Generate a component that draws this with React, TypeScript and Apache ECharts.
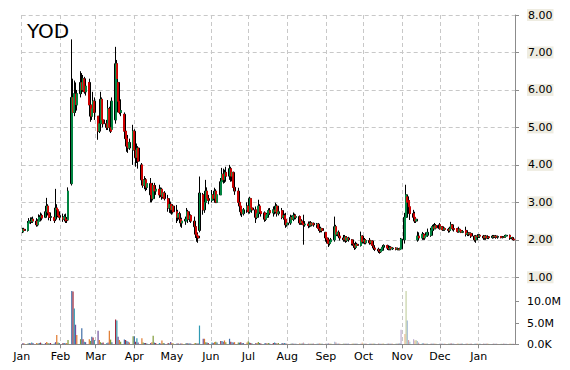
import React, { useEffect, useRef } from "react";
import * as echarts from "echarts";

const TITLE = "YOD";
const AXIS_START = "2014-01-01";
const AXIS_END = "2015-01-30";
const FIRST_TRADING_DAY = "2014-01-02";
const MONTH_NAMES = ["Jan", "Feb", "Mar", "Apr", "May", "Jun", "Jul", "Aug", "Sep", "Oct", "Nov", "Dec"];
const PRICE_TICKS = [1, 2, 3, 4, 5, 6, 7, 8];
const VOLUME_TICKS = [0, 5, 10];
const PALE_FROM = "2014-08-01";

// daily candles, one row per trading week: [open, close, low, high]
const candles: number[][] = [
  [2.22, 2.28, 2.18, 2.32], [2.28, 2.25, 2.2, 2.32],
  [2.25, 2.45, 2.22, 2.5], [2.45, 2.5, 2.4, 2.58], [2.5, 2.48, 2.42, 2.6], [2.48, 2.55, 2.45, 2.6], [2.55, 2.5, 2.45, 2.62],
  [2.5, 2.4, 2.35, 2.58], [2.4, 2.5, 2.36, 2.55], [2.5, 2.6, 2.48, 2.68], [2.6, 2.65, 2.52, 2.73], [2.65, 2.58, 2.52, 2.7],
  [2.6, 2.75, 2.58, 2.9], [2.75, 2.9, 2.7, 3.12], [2.9, 2.72, 2.65, 2.95], [2.72, 2.6, 2.52, 2.76], [2.6, 2.62, 2.5, 2.7],
  [2.6, 2.52, 2.45, 2.62], [2.55, 2.85, 2.5, 3.36], [2.85, 2.8, 2.72, 2.95], [2.8, 2.65, 2.6, 2.85], [2.65, 2.6, 2.52, 2.76],
  [2.6, 2.55, 2.48, 2.7], [2.55, 2.62, 2.5, 2.68], [2.6, 2.5, 2.45, 2.7], [2.55, 2.52, 2.45, 2.6], [2.53, 3.3, 2.5, 3.4],
  [3.5, 5.8, 3.45, 7.35], [5.8, 5.4, 4.9, 6.3], [5.4, 5.9, 5.3, 6.25], [5.9, 5.6, 5.4, 6.2], [5.6, 5.9, 5.45, 6.0],
  [5.9, 6.2, 5.8, 6.5], [6.2, 6.0, 5.9, 6.45], [6.0, 6.3, 5.95, 6.4], [6.3, 5.95, 5.9, 6.35], [5.95, 6.1, 5.85, 6.2],
  [6.2, 5.6, 5.5, 6.3], [5.6, 5.3, 5.15, 5.7], [5.3, 5.5, 5.2, 5.6], [5.5, 5.7, 5.3, 5.95], [5.7, 5.4, 5.2, 5.8],
  [5.3, 4.9, 4.67, 5.3], [4.9, 5.1, 4.85, 5.2], [5.1, 5.75, 5.05, 5.95], [5.75, 5.2, 5.1, 5.8], [5.2, 5.1, 5.0, 5.3],
  [5.1, 5.0, 4.93, 5.2], [5.0, 5.5, 4.93, 5.73], [5.5, 5.0, 4.9, 5.55], [5.0, 4.9, 4.85, 5.05], [4.95, 5.7, 4.9, 5.8],
  [5.2, 6.7, 5.1, 7.15], [6.7, 6.3, 6.25, 6.8], [6.2, 5.7, 5.4, 6.3], [5.7, 5.4, 5.35, 5.9], [5.4, 5.45, 5.3, 5.75],
  [5.35, 4.9, 4.75, 5.4], [4.9, 4.7, 4.6, 5.0], [4.7, 4.5, 4.35, 4.85], [4.5, 4.45, 4.32, 4.8], [4.45, 4.6, 4.4, 4.7],
  [4.4, 4.9, 4.0, 5.07], [4.9, 4.4, 4.2, 4.95], [4.4, 4.2, 3.95, 4.5], [4.2, 4.45, 4.05, 4.57], [4.45, 4.1, 3.9, 4.5],
  [4.0, 3.6, 3.45, 4.05], [3.6, 3.45, 3.39, 3.75], [3.45, 3.6, 3.35, 3.7], [3.6, 3.4, 3.3, 3.65], [3.4, 3.5, 3.33, 3.6],
  [3.5, 3.2, 3.0, 3.65], [3.2, 3.1, 3.0, 3.3], [3.1, 3.45, 3.05, 3.52], [3.45, 3.3, 3.15, 3.52], [3.3, 3.35, 3.2, 3.45],
  [3.35, 3.2, 3.12, 3.47], [3.2, 3.35, 3.15, 3.4], [3.35, 3.15, 3.07, 3.39], [3.15, 3.25, 3.1, 3.3], [3.25, 3.1, 3.05, 3.3],
  [3.1, 2.85, 2.75, 3.2], [2.85, 2.95, 2.72, 3.05], [2.95, 2.8, 2.7, 3.02], [2.8, 2.9, 2.67, 2.95], [2.9, 2.75, 2.7, 2.95],
  [2.75, 2.6, 2.45, 2.93], [2.6, 2.7, 2.5, 2.8], [2.7, 2.55, 2.45, 2.75], [2.55, 2.45, 2.35, 2.6], [2.45, 2.5, 2.32, 2.59],
  [2.5, 2.55, 2.4, 2.62], [2.55, 2.75, 2.5, 2.85], [2.75, 2.55, 2.45, 2.8], [2.55, 2.65, 2.48, 2.73], [2.65, 2.5, 2.45, 2.68],
  [2.5, 2.35, 2.29, 2.62], [2.35, 2.15, 2.05, 2.4], [2.15, 2.1, 1.95, 2.33], [2.1, 2.05, 1.92, 2.2], [2.25, 3.25, 2.2, 3.69],
  [3.2, 2.8, 2.67, 3.25], [2.8, 3.0, 2.72, 3.1], [3.0, 3.3, 2.95, 3.6], [3.3, 3.1, 3.05, 3.4], [3.1, 3.05, 2.95, 3.2],
  [3.05, 3.2, 3.0, 3.33], [3.2, 3.1, 3.05, 3.25], [3.1, 3.3, 3.05, 3.39], [3.3, 3.0, 2.98, 3.35], [3.0, 3.2, 2.98, 3.3],
  [3.2, 3.55, 3.2, 3.65], [3.55, 3.75, 3.45, 3.92], [3.75, 3.6, 3.5, 3.9], [3.6, 3.8, 3.52, 3.87], [3.8, 3.7, 3.55, 3.95],
  [3.7, 3.9, 3.6, 4.0], [3.9, 3.7, 3.55, 3.95], [3.7, 3.8, 3.56, 3.85], [3.8, 3.4, 3.33, 3.82], [3.4, 3.3, 3.2, 3.5],
  [3.3, 3.0, 2.99, 3.39], [3.0, 2.9, 2.85, 3.15], [2.9, 2.75, 2.65, 2.95], [2.75, 2.7, 2.61, 2.89], [2.7, 2.8, 2.65, 2.85],
  [2.8, 2.9, 2.72, 3.0], [2.9, 2.75, 2.7, 2.95], [2.75, 3.1, 2.7, 3.15], [3.1, 2.85, 2.8, 3.12], [2.85, 2.8, 2.72, 2.9],
  [2.8, 2.6, 2.45, 2.89], [2.6, 2.7, 2.55, 2.75], [2.7, 2.9, 2.62, 3.07], [2.9, 2.75, 2.7, 2.95], [2.75, 2.7, 2.62, 2.8],
  [2.72, 2.55, 2.48, 2.76], [2.55, 2.65, 2.5, 2.7], [2.6, 2.68, 2.55, 2.72], [2.68, 2.78, 2.65, 2.84], [2.78, 2.72, 2.67, 2.85],
  [2.72, 2.8, 2.62, 2.89], [2.8, 2.75, 2.68, 2.85], [2.75, 2.9, 2.7, 2.99], [2.9, 2.7, 2.62, 2.95], [2.7, 2.75, 2.65, 2.8],
  [2.78, 2.6, 2.55, 2.85], [2.6, 2.65, 2.55, 2.72], [2.65, 2.55, 2.5, 2.7], [2.55, 2.4, 2.32, 2.72], [2.4, 2.45, 2.35, 2.5],
  [2.45, 2.6, 2.4, 2.67], [2.6, 2.55, 2.5, 2.65], [2.55, 2.65, 2.5, 2.73], [2.65, 2.6, 2.55, 2.7], [2.6, 2.62, 2.55, 2.68],
  [2.62, 2.45, 2.4, 2.65], [2.45, 2.5, 2.4, 2.55], [2.5, 2.45, 2.4, 2.55], [2.45, 2.4, 1.87, 2.67], [2.4, 2.42, 2.35, 2.5],
  [2.42, 2.38, 2.31, 2.49], [2.38, 2.45, 2.33, 2.49], [2.45, 2.4, 2.35, 2.5], [2.4, 2.44, 2.36, 2.47], [2.44, 2.4, 2.35, 2.46],
  [2.4, 2.42, 2.32, 2.45], [2.42, 2.3, 2.25, 2.45], [2.3, 2.25, 2.19, 2.35], [2.25, 2.3, 2.2, 2.35], [2.3, 2.25, 2.2, 2.32],
  [2.2, 2.05, 1.95, 2.21], [2.05, 2.0, 1.9, 2.1], [2.0, 1.9, 1.81, 2.05], [1.9, 1.95, 1.85, 2.0], [1.95, 2.0, 1.9, 2.05],
  [2.0, 2.35, 1.95, 2.62], [2.35, 2.15, 2.1, 2.4], [2.15, 2.2, 2.1, 2.3], [2.2, 2.1, 2.05, 2.25], [2.1, 2.05, 1.98, 2.15],
  [2.05, 2.0, 1.95, 2.13], [2.0, 2.08, 1.95, 2.13], [2.08, 1.98, 1.92, 2.1], [1.98, 2.05, 1.94, 2.1], [2.05, 2.0, 1.95, 2.08],
  [2.0, 1.9, 1.85, 2.02], [1.9, 1.85, 1.79, 1.95], [1.85, 1.8, 1.73, 1.9], [1.8, 1.88, 1.75, 1.95], [1.88, 1.85, 1.8, 1.92],
  [1.85, 2.1, 1.82, 2.22], [2.1, 1.95, 1.9, 2.12], [1.95, 2.0, 1.9, 2.05], [2.0, 1.92, 1.88, 2.05], [1.92, 1.98, 1.88, 2.02],
  [1.98, 1.92, 1.87, 2.05], [1.92, 1.97, 1.88, 2.0], [1.97, 1.85, 1.8, 1.98], [1.85, 1.78, 1.73, 1.95], [1.78, 1.75, 1.7, 1.82],
  [1.75, 1.7, 1.65, 1.79], [1.7, 1.68, 1.63, 1.74], [1.68, 1.72, 1.65, 1.76], [1.72, 1.8, 1.7, 1.85], [1.8, 1.85, 1.73, 1.88],
  [1.85, 1.78, 1.73, 1.87], [1.78, 1.75, 1.72, 1.82], [1.75, 1.8, 1.72, 1.84], [1.8, 1.76, 1.72, 1.83], [1.76, 1.78, 1.73, 1.8],
  [1.78, 1.75, 1.72, 1.8], [1.75, 1.76, 1.72, 1.79], [1.76, 1.74, 1.72, 1.78], [1.74, 1.76, 1.72, 1.79], [1.76, 2.02, 1.73, 2.05],
  [2.0, 2.6, 1.9, 2.72], [2.6, 3.2, 2.6, 3.47], [3.15, 3.0, 2.8, 3.2], [3.05, 2.88, 2.85, 3.1], [2.88, 2.7, 2.53, 2.99],
  [2.7, 2.6, 2.5, 2.8], [2.6, 2.5, 2.45, 2.75], [2.5, 2.55, 2.45, 2.6], [2.0, 2.1, 1.95, 2.22], [2.1, 2.05, 1.98, 2.2],
  [2.05, 2.15, 2.0, 2.21], [2.15, 2.05, 2.0, 2.18], [2.05, 2.1, 2.0, 2.15], [2.1, 2.12, 2.05, 2.2], [2.12, 2.2, 2.08, 2.3],
  [2.12, 2.25, 2.08, 2.32], [2.25, 2.35, 2.2, 2.4], [2.35, 2.3, 2.25, 2.42], [2.3, 2.38, 2.28, 2.45], [2.38, 2.32, 2.28, 2.42],
  [2.4, 2.3, 2.27, 2.45], [2.3, 2.35, 2.28, 2.4], [2.35, 2.27, 2.24, 2.37], [2.27, 2.3, 2.24, 2.34], [2.3, 2.28, 2.24, 2.33],
  [2.28, 2.25, 2.19, 2.32], [2.25, 2.3, 2.2, 2.35], [2.3, 2.4, 2.25, 2.48], [2.4, 2.3, 2.25, 2.42], [2.3, 2.28, 2.22, 2.35],
  [2.3, 2.22, 2.19, 2.32], [2.22, 2.28, 2.19, 2.35], [2.28, 2.25, 2.2, 2.3], [2.25, 2.2, 2.18, 2.28], [2.2, 2.22, 2.18, 2.25],
  [2.25, 2.15, 2.09, 2.35], [2.15, 2.18, 2.1, 2.22], [2.18, 2.15, 2.1, 2.2], [2.15, 2.17, 2.12, 2.2], [2.17, 2.1, 2.05, 2.2],
  [2.1, 2.0, 1.95, 2.12], [2.0, 2.1, 1.92, 2.13], [2.1, 2.08, 2.05, 2.15], [2.08, 2.12, 2.05, 2.15], [2.12, 2.1, 2.05, 2.15],
  [2.1, 2.05, 2.0, 2.13], [2.05, 2.1, 2.0, 2.12], [2.1, 2.05, 2.0, 2.13], [2.05, 2.08, 2.02, 2.12], [2.08, 2.06, 2.02, 2.1],
  [2.06, 2.1, 2.03, 2.13], [2.1, 2.08, 2.04, 2.13], [2.08, 2.1, 2.05, 2.12], [2.1, 2.07, 2.03, 2.13], [2.07, 2.09, 2.03, 2.11],
  [2.09, 2.06, 2.04, 2.1], [2.06, 2.08, 2.04, 2.1], [2.08, 2.07, 2.05, 2.1], [2.07, 2.1, 2.05, 2.13], [2.1, 2.12, 2.06, 2.14],
  [2.12, 2.05, 2.0, 2.14], [2.05, 2.06, 2.02, 2.1], [2.06, 2.02, 2.0, 2.08], [2.02, 2.0, 1.98, 2.06],
];

// daily volume, millions of shares
const volumesM: number[] = [
  0.3, 0.2,
  0.2, 0.3, 0.2, 0.4, 0.3, 0.3, 0.2, 0.3, 0.4, 0.2, 0.3, 0.55, 0.3, 0.2, 0.3, 0.2, 0.5, 2.2, 0.4, 0.3,
  0.3, 0.3, 0.2, 0.3, 1.0, 12.5, 12.4, 8.4, 4.6, 2.2, 1.2, 3.75, 1.2, 0.6, 0.5, 1.2, 0.8, 1.8, 1.6, 1.0,
  3.2, 1.0, 0.5, 0.3, 0.4, 0.3, 0.4, 3.2, 1.1, 0.5, 5.8, 5.6, 1.8, 1.0, 0.6, 1.1, 1.0, 0.8, 0.6, 0.4,
  1.9, 1.9, 0.6, 1.4, 0.4, 1.4, 0.4, 0.3, 0.3, 0.2, 0.3, 0.5, 2.0, 0.4, 0.3, 0.3, 0.2, 0.9, 0.3, 0.2,
  0.3, 0.2, 0.55, 0.3, 0.2, 0.2, 0.2, 0.1, 0.2, 0.2, 0.2, 0.3, 0.2, 0.2, 0.2, 0.2, 0.3, 0.2, 0.2, 4.4,
  1.3, 1.3, 0.5, 0.4, 0.3, 0.4, 0.3, 0.5, 0.6, 0.4, 0.8, 0.8, 0.6, 0.9, 0.5, 1.3, 0.6, 0.5, 0.4, 0.5,
  0.4, 0.4, 0.5, 0.3, 0.3, 0.4, 0.7, 0.4, 0.3, 0.2, 0.3, 0.3, 0.55, 0.3, 0.2, 0.2, 0.3, 0.2, 0.3, 0.2,
  0.3, 0.4, 0.3, 0.2, 0.3, 0.3, 0.2, 0.3, 0.2, 0.2, 0.2, 0.3, 0.2, 0.2, 0.2, 0.3, 0.2, 0.3, 0.4, 0.2,
  0.2, 0.2, 0.2, 0.2, 0.2, 0.2, 0.2, 0.3, 0.2, 0.2, 0.2, 0.2, 0.3, 0.2, 0.2, 0.6, 0.4, 0.2, 0.2, 0.2,
  0.2, 0.2, 0.2, 0.2, 0.2, 0.2, 0.2, 0.2, 0.2, 0.2, 0.2, 0.4, 0.2, 0.2, 0.2, 0.2, 0.2, 0.2, 0.2, 0.2,
  0.2, 0.2, 0.1, 0.2, 0.2, 0.2, 0.2, 0.2, 0.2, 0.2, 0.2, 0.2, 0.2, 0.3, 3.4, 2.4, 12.5, 5.6, 1.0, 0.6,
  1.2, 0.9, 1.0, 0.8, 0.4, 0.3, 0.3, 0.2, 0.2, 0.2, 0.2, 0.2, 0.2, 0.2, 0.1, 0.2, 0.2, 0.2, 0.1, 0.2,
  0.2, 0.2, 0.3, 0.2, 0.2, 0.2, 0.2, 0.1, 0.2, 0.2, 0.2, 0.2, 0.1, 0.1, 0.2, 0.2, 0.2, 0.2, 0.1, 0.2,
  0.2, 0.1, 0.2, 0.2, 0.1, 0.1, 0.2, 0.1, 0.2, 0.1, 0.1, 0.1, 0.2, 0.1, 0.1, 0.2, 0.1, 0.1, 0.1,
];

const VOLUME_PALETTE = ["#6e4f9c", "#e07a2e", "#7f9a36", "#3f6ea6", "#a3283c", "#2f9ab3"];
const UP_COLOR = "#00a651";
const DOWN_COLOR = "#ff0000";

const DAY = 86400000;
const parse = (s: string) => Date.parse(s + "T00:00:00Z");
const fmt = (t: number) => new Date(t).toISOString().slice(0, 10);

export default function App() {
  const ref = useRef<HTMLDivElement>(null);
  useEffect(() => {
    if (!ref.current) return;
    const chart = echarts.init(ref.current, undefined, { renderer: "svg" });

    const cats: string[] = [];
    for (let t = parse(AXIS_START); t <= parse(AXIS_END); t += DAY) cats.push(fmt(t));
    const catIndex: Record<string, number> = {};
    cats.forEach((c, i) => (catIndex[c] = i));

    const tradingDays: string[] = [];
    let t = parse(FIRST_TRADING_DAY);
    while (tradingDays.length < Math.max(candles.length, volumesM.length)) {
      const wd = new Date(t).getUTCDay();
      if (wd !== 0 && wd !== 6) tradingDays.push(fmt(t));
      t += DAY;
    }

    // full candle (wick + body) drawn in black, coloured body drawn over it
    const wickData = candles.map((c, i) => [catIndex[tradingDays[i]], c[0], c[1], c[2], c[3]]);
    const bodyData = candles.map((c, i) => [
      catIndex[tradingDays[i]], c[0], c[1], Math.min(c[0], c[1]), Math.max(c[0], c[1]),
    ]);
    const volData = volumesM.map((v, i) => ({
      value: [catIndex[tradingDays[i]], v],
      itemStyle: {
        color: VOLUME_PALETTE[i % VOLUME_PALETTE.length],
        opacity: tradingDays[i] >= PALE_FROM ? 0.45 : 1,
      },
    }));

    const isMonthStart = (_i: number, v: string) => v.slice(8, 10) === "01";
    const dashed = { color: "#c8c8c8", type: [4, 3] as any, width: 1 };
    const font = "DejaVu Sans";
    const left = 21.7;
    const right = 55;

    const hiddenX = (gi: number) => ({
      type: "category" as const,
      gridIndex: gi,
      data: cats,
      boundaryGap: false,
      show: false,
    });

    chart.setOption({
      animation: false,
      backgroundColor: "#ffffff",
      title: {
        text: TITLE,
        left: 27,
        top: 21,
        padding: 0,
        textStyle: { fontSize: 20, fontWeight: "normal", fontFamily: font, color: "#000" },
      },
      grid: [
        { left, right, top: 15, bottom: 92.7 },
        { left, right, top: 286.8, bottom: 25.7 },
        { left, right, top: 15, bottom: 25.7 },
      ],
      xAxis: [
        hiddenX(0),
        hiddenX(1),
        {
          type: "category",
          gridIndex: 2,
          data: cats,
          boundaryGap: false,
          axisLine: { show: true, lineStyle: { color: "#8c8c8c", width: 1 } },
          axisTick: { show: true, length: 4, interval: isMonthStart, lineStyle: { color: "#8c8c8c" } },
          axisLabel: {
            interval: isMonthStart,
            formatter: (v: string) => MONTH_NAMES[parseInt(v.slice(5, 7), 10) - 1],
            fontSize: 11,
            fontFamily: font,
            color: "#000",
            margin: 7,
          },
          splitLine: { show: true, interval: isMonthStart, lineStyle: dashed },
        },
      ],
      yAxis: [
        {
          type: "value",
          gridIndex: 0,
          position: "right",
          min: PRICE_TICKS[0],
          max: PRICE_TICKS[PRICE_TICKS.length - 1],
          interval: 1,
          axisLine: { show: false },
          axisTick: { show: true, length: 4, lineStyle: { color: "#8c8c8c" } },
          axisLabel: {
            formatter: (v: number) => v.toFixed(2),
            fontSize: 11,
            fontFamily: font,
            color: "#000",
            margin: 12,
            backgroundColor: "#eeece1",
            padding: [1, 1, 0, 1],
          },
          splitLine: { show: true, lineStyle: dashed },
        },
        {
          type: "value",
          gridIndex: 1,
          position: "right",
          min: 0,
          max: 13.5,
          interval: 5,
          axisLine: { show: false },
          axisTick: { show: true, length: 4, lineStyle: { color: "#8c8c8c" }, customValues: VOLUME_TICKS },
          axisLabel: {
            formatter: (v: number) => (v === 0 ? "0.0K" : v.toFixed(1) + "M"),
            fontSize: 11,
            fontFamily: font,
            color: "#000",
            margin: 12,
            customValues: VOLUME_TICKS,
          },
          splitLine: { show: false },
        },
        {
          type: "value",
          gridIndex: 2,
          position: "right",
          min: 0,
          max: 1,
          axisLine: { show: true, lineStyle: { color: "#8c8c8c", width: 1 } },
          axisTick: { show: false },
          axisLabel: { show: false },
          splitLine: { show: false },
        },
      ],
      series: [
        {
          type: "bar",
          xAxisIndex: 1,
          yAxisIndex: 1,
          barWidth: 1.2,
          data: volData,
          encode: { x: 0, y: 1 },
        },
        {
          type: "candlestick",
          xAxisIndex: 0,
          yAxisIndex: 0,
          barWidth: 2.4,
          encode: { x: 0, y: [1, 2, 3, 4] },
          data: wickData,
          itemStyle: {
            color: "#000000",
            color0: "#000000",
            borderColor: "#000000",
            borderColor0: "#000000",
            borderWidth: 1,
          },
        },
        {
          type: "candlestick",
          xAxisIndex: 0,
          yAxisIndex: 0,
          barWidth: 1.4,
          encode: { x: 0, y: [1, 2, 3, 4] },
          data: bodyData,
          itemStyle: {
            color: UP_COLOR,
            color0: DOWN_COLOR,
            borderColor: UP_COLOR,
            borderColor0: DOWN_COLOR,
            borderWidth: 0.6,
          },
        },
      ],
    });
    return () => chart.dispose();
  }, []);
  return (
    <div
      ref={ref}
      style={{ position: "fixed", left: 0, top: 0, width: 570, height: 370, background: "#fff" }}
    />
  );
}
